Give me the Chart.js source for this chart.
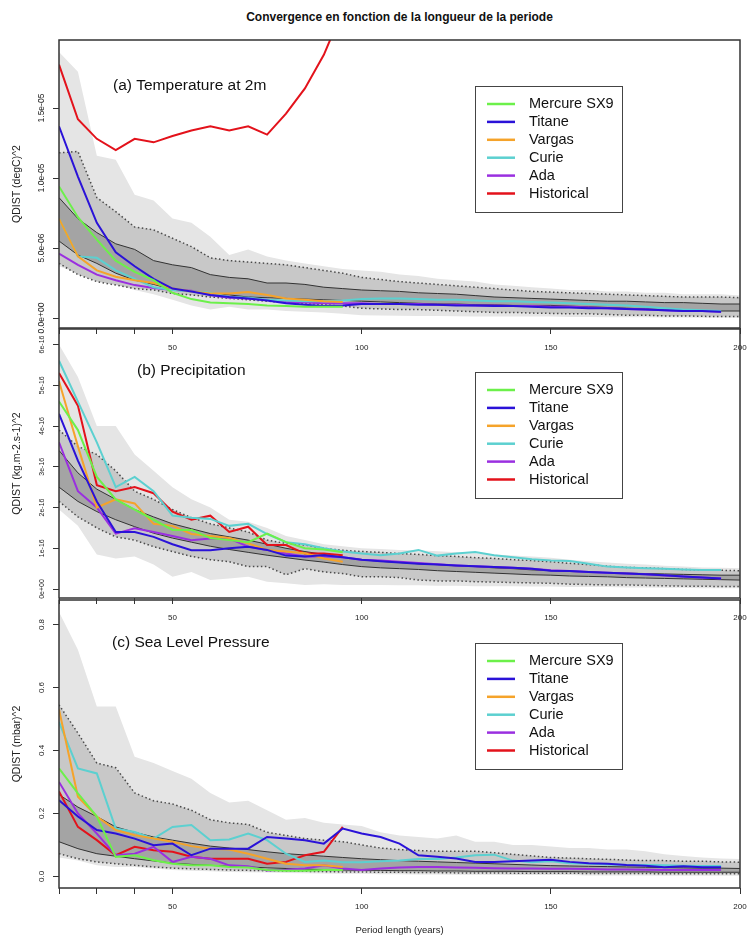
<!DOCTYPE html>
<html>
<head>
<meta charset="utf-8">
<title>Convergence en fonction de la longueur de la periode</title>
<script src="https://cdn.jsdelivr.net/npm/chart.js@4.4.1/dist/chart.umd.min.js"></script>
<style>
  body { margin: 0; background: #fff; }
  .panel { position: absolute; left: 0; width: 748px; }
  #title { position: absolute; left: 59px; width: 681px; top: 10px; text-align: center;
           font: bold 12px "Liberation Sans", Arial, sans-serif; line-height: 14px; color: #111; }
</style>
</head>
<body>
<div id="title">Convergence en fonction de la longueur de la periode</div>
<div class="panel" style="top:0;height:360px"><canvas id="chartA"></canvas></div>
<div class="panel" style="top:290px;height:340px"><canvas id="chartB"></canvas></div>
<div class="panel" style="top:560px;height:376px"><canvas id="chartC"></canvas></div>
<script>
var FONT = '"Liberation Sans", Arial, Helvetica, sans-serif';
Chart.defaults.font.family = FONT;
Chart.defaults.color = '#222';

// period lengths (years)
var years = [20, 25, 30, 35, 40, 45, 50, 55, 60, 65, 70, 75, 80, 85, 90, 95,
             100, 105, 110, 115, 120, 125, 130, 135, 140, 145,
             150, 155, 160, 165, 170, 175, 180, 185, 190, 195, 200];
var xTicks = [20, 30, 40, 50, 100, 150, 200];
var xTickLabels = ['', '', '', '50', '100', '150', '200'];

var seriesNames = ['Mercure SX9', 'Titane', 'Vargas', 'Curie', 'Ada', 'Historical'];
var seriesColors = ['#6cf04a', '#2a12d8', '#f5a32a', '#5cd0d0', '#9a2fe0', '#e3121b'];

// (a) Temperature at 2m, values in 1e-06 (degC)^2
var aYTicks = [0, 5, 10, 15];
var aYLabels = ['0.0e+00', '5.0e-06', '1.0e-05', '1.5e-05'];
var aLightHi = [19.0, 17.6, 11.6, 11.3, 8.8, 8.4, 7.1, 6.8, 5.8, 4.5, 4.9, 4.4, 4.1, 3.9, 3.7, 3.5,
                3.4, 3.3, 3.1, 3.0, 2.8, 2.7, 2.6, 2.4, 2.3, 2.2,
                2.1, 2.0, 2.0, 1.9, 1.9, 1.8, 1.8, 1.7, 1.7, 1.7, 1.6];
var aDotHi = [11.8, 11.9, 8.6, 7.6, 6.5, 6.3, 5.7, 5.1, 4.3, 4.1, 4.0, 3.9, 3.8, 3.6, 3.4, 3.2,
              2.9, 2.75, 2.6, 2.5, 2.4, 2.3, 2.2, 2.1, 2.0, 1.9,
              1.85, 1.8, 1.75, 1.7, 1.65, 1.6, 1.55, 1.5, 1.5, 1.5, 1.45];
var aSolidHi = [8.6, 7.1, 6.1, 5.3, 4.9, 4.1, 3.8, 3.6, 3.1, 2.9, 2.8, 2.5, 2.5, 2.4, 2.2, 2.1,
                2.0, 1.95, 1.9, 1.8, 1.75, 1.7, 1.6, 1.5, 1.45, 1.4,
                1.35, 1.3, 1.25, 1.2, 1.2, 1.15, 1.1, 1.1, 1.05, 1.0, 1.0];
var aSolidLo = [5.5, 4.5, 3.9, 3.2, 2.7, 2.4, 2.05, 1.9, 1.75, 1.65, 1.5, 1.45, 1.4, 1.35, 1.3, 1.25,
                1.2, 1.15, 1.1, 1.05, 1.0, 1.0, 0.95, 0.95, 0.9, 0.9,
                0.9, 0.85, 0.8, 0.75, 0.7, 0.65, 0.6, 0.55, 0.5, 0.5, 0.5];
var aDotLo = [3.9, 3.1, 2.6, 2.35, 2.1, 2.0, 1.75, 1.65, 1.5, 1.4, 1.3, 1.2, 1.1, 1.05, 0.95, 0.85,
              0.7, 0.65, 0.6, 0.6, 0.55, 0.5, 0.45, 0.4, 0.4, 0.35,
              0.33, 0.3, 0.3, 0.25, 0.2, 0.2, 0.15, 0.15, 0.12, 0.1, 0.1];
var aLightLo = [3.7, 3.2, 2.8, 2.4, 2.0, 1.7, 1.3, 0.9, 0.6, 0.8, 0.6, 0.6, 0.5, 0.45, 0.4, 0.3,
                0.2, 0.18, 0.16, 0.15, 0.14, 0.12, 0.1, 0.1, 0.1, 0.1,
                0.1, 0.08, 0.08, 0.06, 0.06, 0.05, 0.04, 0.03, 0.02, 0.02, 0.0];
var aMercure = [9.4, 7.2, 5.6, 4.1, 3.3, 2.7, 1.8, 1.35, 1.1, 1.05, 1.0, 0.9, 0.85, 0.8, 0.8, 0.8];
var aTitane = [13.7, 10.1, 6.8, 4.7, 3.7, 2.8, 2.1, 1.9, 1.65, 1.5, 1.4, 1.25, 1.05, 0.95, 0.85, 0.9,
               1.0, 1.0, 1.0, 0.95, 0.95, 0.9, 0.9, 0.85, 0.85, 0.8,
               0.75, 0.75, 0.7, 0.7, 0.65, 0.6, 0.55, 0.5, 0.5, 0.45];
var aVargas = [7.1, 4.4, 3.4, 2.95, 2.7, 2.5, 2.1, 1.9, 1.75, 1.75, 1.85, 1.65, 1.4, 1.3, 1.2, 1.15];
var aCurie = [7.1, 4.4, 4.3, 3.4, 2.8, 2.2, 2.0, 1.9, 1.8, 1.5, 1.45, 1.3, 1.25, 1.2, 1.2, 1.25,
              1.35, 1.4, 1.4, 1.35, 1.3, 1.3, 1.25, 1.2, 1.2, 1.15,
              1.1, 1.05, 1.0, 0.95, 0.9, 0.8, 0.7, 0.6, 0.55, 0.5];
var aAda = [4.6, 3.8, 3.1, 2.7, 2.35, 2.15, 2.0, 1.95, 1.65, 1.45, 1.4, 1.3, 1.15, 1.1, 1.05, 1.05,
            1.05, 1.0, 1.0, 1.0, 0.95, 0.95, 0.9, 0.9, 0.85, 0.85,
            0.8, 0.8, 0.75, 0.7, 0.65, 0.6, 0.55, 0.5, 0.5, 0.45];
var aHistorical = [18.1, 14.2, 12.8, 12.0, 12.8, 12.55, 13.0, 13.4, 13.7, 13.4, 13.7, 13.1, 14.6, 16.4, 18.8, 22.0];

// (b) Precipitation, values in 1e-16 (kg.m-2.s-1)^2
var bYTicks = [0, 1, 2, 3, 4, 5, 6];
var bYLabels = ['0e+00', '1e-16', '2e-16', '3e-16', '4e-16', '5e-16', '6e-16'];
var bLightHi = [6.0, 5.2, 4.0, 4.0, 3.3, 2.9, 2.5, 2.2, 2.0, 1.7, 1.65, 1.5, 1.3, 1.2, 1.1, 1.05,
                1.0, 0.98, 0.96, 0.95, 0.93, 0.9, 0.88, 0.85, 0.82, 0.8,
                0.77, 0.72, 0.68, 0.65, 0.62, 0.6, 0.57, 0.55, 0.53, 0.52, 0.51];
var bDotHi = [3.9, 3.5, 3.3, 2.9, 2.4, 2.2, 1.95, 1.75, 1.6, 1.5, 1.4, 1.2, 1.12, 1.08, 1.0, 0.95,
              0.92, 0.9, 0.87, 0.85, 0.82, 0.8, 0.77, 0.75, 0.72, 0.7,
              0.67, 0.63, 0.6, 0.56, 0.53, 0.52, 0.5, 0.48, 0.47, 0.46, 0.45];
var bSolidHi = [3.4, 2.85, 2.45, 2.2, 1.95, 1.77, 1.6, 1.48, 1.36, 1.28, 1.2, 1.1, 1.0, 0.92, 0.85, 0.78,
                0.72, 0.68, 0.65, 0.62, 0.6, 0.57, 0.55, 0.52, 0.5, 0.47,
                0.45, 0.43, 0.42, 0.4, 0.39, 0.38, 0.37, 0.36, 0.35, 0.34, 0.34];
var bSolidLo = [2.5, 2.15, 1.9, 1.7, 1.53, 1.37, 1.25, 1.15, 1.05, 0.97, 0.9, 0.83, 0.77, 0.71, 0.66, 0.6,
                0.55, 0.52, 0.5, 0.48, 0.45, 0.43, 0.41, 0.39, 0.37, 0.35,
                0.34, 0.32, 0.31, 0.3, 0.28, 0.27, 0.26, 0.25, 0.24, 0.23, 0.22];
var bDotLo = [2.15, 1.77, 1.5, 1.28, 1.2, 1.04, 0.92, 0.8, 0.72, 0.67, 0.55, 0.55, 0.35, 0.5, 0.42, 0.38,
              0.3, 0.3, 0.28, 0.22, 0.2, 0.2, 0.18, 0.17, 0.16, 0.15,
              0.14, 0.12, 0.11, 0.1, 0.1, 0.09, 0.08, 0.07, 0.07, 0.06, 0.06];
var bLightLo = [1.95, 1.55, 0.85, 0.75, 0.8, 0.6, 0.3, 0.42, 0.22, 0.26, 0.3, 0.18, 0.14, 0.1, 0.12, 0.1,
                0.1, 0.1, 0.09, 0.09, 0.08, 0.08, 0.07, 0.07, 0.07, 0.06,
                0.06, 0.05, 0.05, 0.05, 0.04, 0.04, 0.03, 0.03, 0.02, 0.02, 0.02];
var bMercure = [4.6, 3.9, 2.75, 2.2, 1.95, 1.7, 1.45, 1.45, 1.25, 1.2, 1.15, 1.36, 1.15, 1.0, 0.97, 0.9];
var bTitane = [4.3, 3.15, 2.15, 1.4, 1.4, 1.28, 1.1, 0.95, 0.95, 1.0, 1.04, 0.96, 0.82, 0.8, 0.83, 0.78,
               0.72, 0.68, 0.65, 0.62, 0.6, 0.58, 0.56, 0.54, 0.52, 0.5,
               0.45, 0.44, 0.42, 0.4, 0.38, 0.36, 0.34, 0.31, 0.28, 0.26];
var bVargas = [5.1, 3.5, 2.0, 2.2, 2.1, 1.6, 1.55, 1.35, 1.3, 1.25, 1.12, 0.96, 0.92, 0.88, 0.75, 0.67];
var bCurie = [5.6, 4.6, 3.6, 2.5, 2.75, 2.4, 1.8, 1.75, 1.72, 1.55, 1.6, 1.35, 1.15, 1.1, 1.0, 0.92,
              0.87, 0.83, 0.87, 0.96, 0.82, 0.87, 0.91, 0.83, 0.78, 0.73,
              0.7, 0.69, 0.62, 0.55, 0.53, 0.51, 0.5, 0.48, 0.47, 0.47];
var bAda = [3.6, 2.4, 2.0, 1.36, 1.49, 1.4, 1.3, 1.2, 1.24, 1.24, 1.04, 0.96, 0.87, 0.8, 0.8, 0.78,
            0.72, 0.7, 0.67, 0.64, 0.61, 0.58, 0.56, 0.54, 0.52, 0.5,
            0.46, 0.44, 0.42, 0.4, 0.38, 0.36, 0.33, 0.31, 0.28, 0.26];
var bHistorical = [5.3, 4.5, 2.55, 2.4, 2.5, 2.35, 1.9, 1.7, 1.8, 1.4, 1.53, 1.08, 1.08, 0.87, 0.87, 0.83];

// (c) Sea Level Pressure, values in (mbar)^2
var cYTicks = [0, 0.2, 0.4, 0.6, 0.8];
var cYLabels = ['0.0', '0.2', '0.4', '0.6', '0.8'];
var cLightHi = [0.84, 0.72, 0.54, 0.54, 0.38, 0.36, 0.335, 0.31, 0.265, 0.235, 0.24, 0.21, 0.18, 0.185, 0.17, 0.165,
                0.16, 0.14, 0.13, 0.125, 0.12, 0.13, 0.11, 0.11, 0.1, 0.1,
                0.095, 0.09, 0.09, 0.085, 0.085, 0.08, 0.07, 0.065, 0.06, 0.057, 0.055];
var cDotHi = [0.545, 0.455, 0.36, 0.345, 0.265, 0.24, 0.23, 0.21, 0.18, 0.17, 0.165, 0.14, 0.13, 0.12, 0.115, 0.11,
              0.1, 0.09, 0.085, 0.082, 0.08, 0.08, 0.08, 0.075, 0.07, 0.065,
              0.06, 0.058, 0.056, 0.054, 0.052, 0.05, 0.05, 0.048, 0.048, 0.046, 0.045];
var cSolidHi = [0.26, 0.22, 0.19, 0.157, 0.14, 0.125, 0.115, 0.105, 0.096, 0.09, 0.085, 0.078, 0.072, 0.068, 0.064, 0.06,
                0.056, 0.053, 0.05, 0.048, 0.046, 0.044, 0.042, 0.04, 0.038, 0.036,
                0.034, 0.033, 0.032, 0.031, 0.03, 0.029, 0.028, 0.027, 0.026, 0.026, 0.025];
var cSolidLo = [0.11, 0.088, 0.072, 0.064, 0.056, 0.049, 0.042, 0.038, 0.035, 0.032, 0.03, 0.027, 0.025, 0.023, 0.021, 0.02,
                0.019, 0.019, 0.018, 0.018, 0.017, 0.017, 0.016, 0.016, 0.016, 0.015,
                0.015, 0.015, 0.014, 0.014, 0.014, 0.014, 0.013, 0.013, 0.013, 0.013, 0.013];
var cDotLo = [0.072, 0.056, 0.046, 0.04, 0.035, 0.03, 0.026, 0.024, 0.022, 0.02, 0.019, 0.018, 0.017, 0.016, 0.015, 0.014,
              0.014, 0.013, 0.013, 0.012, 0.012, 0.011, 0.011, 0.011, 0.01, 0.01,
              0.01, 0.01, 0.009, 0.009, 0.009, 0.009, 0.008, 0.008, 0.008, 0.008, 0.008];
var cLightLo = [0.06, 0.05, 0.035, 0.03, 0.03, 0.025, 0.02, 0.018, 0.016, 0.014, 0.013, 0.012, 0.011, 0.01, 0.009, 0.008,
                0.008, 0.007, 0.007, 0.006, 0.006, 0.005, 0.005, 0.005, 0.004, 0.004,
                0.004, 0.004, 0.003, 0.003, 0.003, 0.003, 0.002, 0.002, 0.002, 0.002, 0.002];
var cMercure = [0.343, 0.264, 0.19, 0.062, 0.067, 0.051, 0.04, 0.035, 0.035, 0.03, 0.028, 0.02, 0.018, 0.018, 0.02, 0.02];
var cTitane = [0.242, 0.19, 0.147, 0.136, 0.12, 0.099, 0.104, 0.067, 0.088, 0.088, 0.088, 0.125, 0.12, 0.115, 0.104, 0.152,
               0.136, 0.125, 0.104, 0.067, 0.062, 0.057, 0.046, 0.046, 0.048, 0.05,
               0.053, 0.046, 0.042, 0.04, 0.036, 0.034, 0.029, 0.032, 0.029, 0.029];
var cVargas = [0.53, 0.253, 0.19, 0.147, 0.131, 0.12, 0.11, 0.096, 0.088, 0.085, 0.072, 0.056, 0.04, 0.035, 0.035, 0.03];
var cCurie = [0.49, 0.343, 0.327, 0.152, 0.141, 0.12, 0.157, 0.163, 0.115, 0.117, 0.136, 0.115, 0.072, 0.046, 0.05, 0.045,
              0.045, 0.048, 0.05, 0.055, 0.055, 0.06, 0.067, 0.069, 0.05, 0.045,
              0.048, 0.042, 0.04, 0.038, 0.036, 0.036, 0.035, 0.034, 0.033, 0.033];
var cAda = [0.3, 0.2, 0.136, 0.067, 0.072, 0.094, 0.046, 0.062, 0.056, 0.035, 0.032, 0.019, 0.021, 0.025, 0.035, 0.025,
            0.02, 0.025, 0.028, 0.03, 0.03, 0.028, 0.027, 0.026, 0.025, 0.025,
            0.024, 0.024, 0.023, 0.022, 0.022, 0.021, 0.02, 0.02, 0.02, 0.02];
var cHistorical = [0.27, 0.157, 0.115, 0.067, 0.094, 0.083, 0.078, 0.062, 0.056, 0.056, 0.056, 0.04, 0.046, 0.067, 0.078, 0.157];

function pts(vals) {
    return vals.map(function (v, i) { return { x: years[i], y: v }; });
}

// box, rotated y labels, panel label and legend, drawn like the R figure
function decor(p) {
    return {
        id: 'decor',
        afterDraw: function (chart) {
            var ctx = chart.ctx, a = chart.chartArea, ys = chart.scales.y;
            ctx.save();
            ctx.strokeStyle = '#333';
            ctx.lineWidth = 1.5;
            ctx.strokeRect(a.left, a.top, a.right - a.left, a.bottom - a.top);

            ctx.fillStyle = '#222';
            ctx.textAlign = 'center';
            ctx.textBaseline = 'middle';
            ctx.font = p.tickFont + 'px ' + FONT;
            p.yTicks.forEach(function (v, i) {
                ctx.save();
                ctx.translate(42, ys.getPixelForValue(v));
                ctx.rotate(-Math.PI / 2);
                ctx.fillText(p.yLabels[i], 0, 0);
                ctx.restore();
            });

            ctx.textAlign = 'left';
            ctx.fillStyle = '#111';
            ctx.font = '15.5px ' + FONT;
            ctx.fillText(p.label, p.labelX, a.top + p.labelDy);

            var bx = a.left + 416, by = a.top + p.legendDy, bw = 147, bh = 126;
            ctx.fillStyle = '#fff';
            ctx.fillRect(bx, by, bw, bh);
            ctx.strokeStyle = '#444';
            ctx.lineWidth = 1;
            ctx.strokeRect(bx + 0.5, by + 0.5, bw, bh);
            ctx.font = '14.5px ' + FONT;
            chart.data.datasets.slice(0, 6).forEach(function (d, i) {
                var y = by + 18 + i * 17.9;
                ctx.strokeStyle = d.borderColor;
                ctx.lineWidth = 2.5;
                ctx.beginPath();
                ctx.moveTo(bx + 12, y);
                ctx.lineTo(bx + 40, y);
                ctx.stroke();
                ctx.fillStyle = '#111';
                ctx.fillText(d.label, bx + 54, y);
            });
            ctx.restore();
        }
    };
}

function makePanel(id, p) {
    var datasets = p.series.map(function (vals, i) {
        return { label: seriesNames[i], data: pts(vals), borderColor: seriesColors[i],
                 backgroundColor: seriesColors[i], borderWidth: 2, pointRadius: 0, fill: false };
    });
    function edge(vals, dotted, fillColor) {
        return { data: pts(vals), borderColor: dotted ? '#4a4a4a' : '#333',
                 borderWidth: dotted ? 1.5 : 1, borderDash: dotted ? [1.5, 2.5] : [],
                 pointRadius: 0, fill: fillColor ? '+1' : false,
                 backgroundColor: fillColor || 'rgba(0,0,0,0)' };
    }
    datasets.push(
        edge(p.solidHi, false, '#a4a4a4'), edge(p.solidLo, false),
        edge(p.dotHi, true, '#c8c8c8'), edge(p.dotLo, true),
        { data: pts(p.lightHi), borderWidth: 0, pointRadius: 0, fill: '+1', backgroundColor: '#e5e5e5' },
        { data: pts(p.lightLo), borderWidth: 0, pointRadius: 0, fill: false }
    );

    new Chart(document.getElementById(id), {
        type: 'line',
        data: { datasets: datasets },
        options: {
            responsive: true,
            maintainAspectRatio: false,
            animation: false,
            layout: { padding: { top: p.padTop, right: 8, left: 0, bottom: 0 } },
            plugins: {
                legend: { display: false },
                tooltip: { enabled: false },
                filler: { drawTime: 'beforeDatasetsDraw' }
            },
            scales: {
                x: {
                    type: 'linear', min: 20, max: 200,
                    afterBuildTicks: function (s) { s.ticks = xTicks.map(function (v) { return { value: v }; }); },
                    afterFit: function (s) { s.height = p.xHeight; s.paddingLeft = 0; s.paddingRight = 0; },
                    ticks: {
                        autoSkip: false, maxRotation: 0, padding: p.xPad, font: { size: 8 }, color: '#222',
                        callback: function (v) { return xTickLabels[xTicks.indexOf(v)]; }
                    },
                    grid: { drawOnChartArea: false, tickLength: 6, color: '#333' },
                    border: { display: false },
                    title: { display: !!p.xTitle, text: p.xTitle || '', font: { size: 9.5 }, padding: 0, color: '#222' }
                },
                y: {
                    min: p.yMin, max: p.yMax,
                    afterBuildTicks: function (s) { s.ticks = p.yTicks.map(function (v) { return { value: v }; }); },
                    afterFit: function (s) { s.width = 59; s.paddingTop = 0; s.paddingBottom = 0; },
                    ticks: { display: false },
                    grid: { drawOnChartArea: false, tickLength: 6, color: '#333' },
                    border: { display: false },
                    title: { display: true, text: p.yTitle, font: { size: 10.5 }, padding: { top: 11, bottom: 0 }, color: '#222' }
                }
            }
        },
        plugins: [decor(p)]
    });
}

makePanel('chartA', {
    series: [aMercure, aTitane, aVargas, aCurie, aAda, aHistorical],
    lightHi: aLightHi, lightLo: aLightLo, dotHi: aDotHi, dotLo: aDotLo, solidHi: aSolidHi, solidLo: aSolidLo,
    yMin: -0.714, yMax: 19.86, yTicks: aYTicks, yLabels: aYLabels, tickFont: 8.5,
    yTitle: 'QDIST (degC)^2', label: '(a) Temperature at 2m', labelX: 113, labelDy: 46, legendDy: 46,
    padTop: 40, xHeight: 32, xPad: 9
});
makePanel('chartB', {
    series: [bMercure, bTitane, bVargas, bCurie, bAda, bHistorical],
    lightHi: bLightHi, lightLo: bLightLo, dotHi: bDotHi, dotLo: bDotLo, solidHi: bSolidHi, solidLo: bSolidLo,
    yMin: -0.22, yMax: 6.38, yTicks: bYTicks, yLabels: bYLabels, tickFont: 7,
    yTitle: 'QDIST (kg.m-2.s-1)^2', label: '(b) Precipitation', labelX: 137, labelDy: 42, legendDy: 43,
    padTop: 39, xHeight: 32, xPad: 9
});
makePanel('chartC', {
    series: [cMercure, cTitane, cVargas, cCurie, cAda, cHistorical],
    lightHi: cLightHi, lightLo: cLightLo, dotHi: cDotHi, dotLo: cDotLo, solidHi: cSolidHi, solidLo: cSolidLo,
    yMin: -0.037, yMax: 0.878, yTicks: cYTicks, yLabels: cYLabels, tickFont: 8,
    yTitle: 'QDIST (mbar)^2', label: '(c) Sea Level Pressure', labelX: 112, labelDy: 43, legendDy: 43,
    padTop: 40, xHeight: 48, xPad: 8, xTitle: 'Period length (years)'
});
</script>
</body>
</html>
